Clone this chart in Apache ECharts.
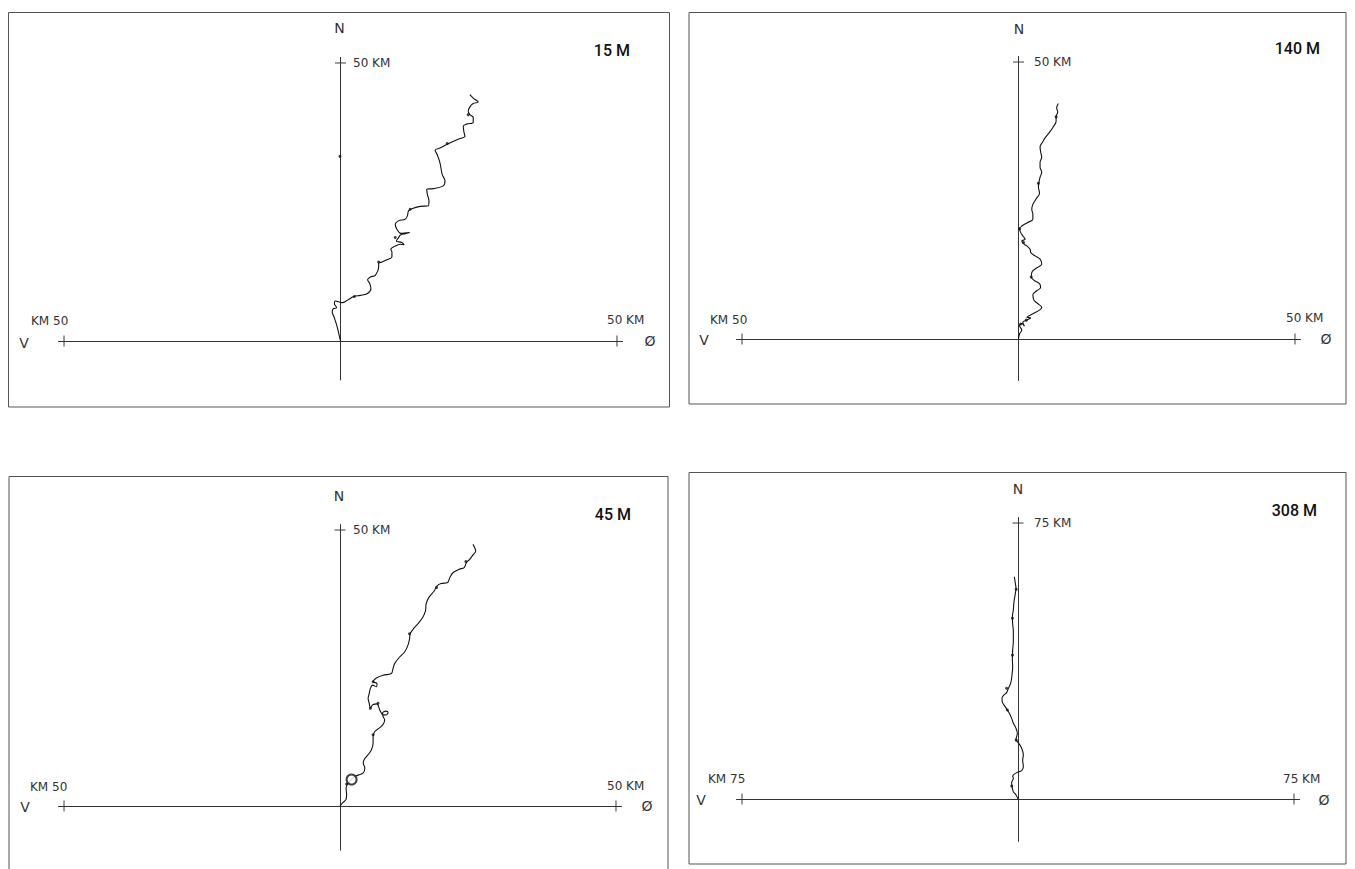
<!DOCTYPE html>
<html><head><meta charset="utf-8">
<script src="https://cdn.jsdelivr.net/npm/echarts@6/dist/echarts.min.js"></script>
<style>html,body{margin:0;padding:0;background:#fff}#c{width:1355px;height:869px}</style>
</head><body><div id="c"></div>
<script>
// ---------- DATA (km east, km north) ----------
const depthLabels = ['15 M', '140 M', '45 M', '308 M'];
const axisKm = [50, 50, 50, 75];

const east15  = [0,-0.7,-1.2,-1.5,-1.3,-0.7,-1.1,-0.9,0.3,1.2,2.4,3.6,4.8,5.5,5.3,4.9,5.4,6.3,6.9,6.9,7.5,8.4,9.3,9.3,9.1,9.9,10.8,11.5,11.1,10.1,10.5,10.9,11.7,12.5,10.9,10.2,9.9,10.5,11.7,12.1,12.3,12.9,14.4,15.9,16.0,15.7,15.6,16.8,18.6,18.9,18.4,18.0,17.5,17.1,18.0,19.3,21.3,22.5,22.3,22.2,22.8,24.0,24.0,23.4,23.1,23.4,24.0,24.9,24.1,23.4];
const north15 = [0,2.9,4.4,5.2,5.8,6.0,6.7,7.2,6.9,7.3,8.0,8.2,8.5,9.4,10.3,11.0,11.5,11.8,13.3,14.0,14.2,14.6,15.1,16.0,16.5,17.1,17.4,17.3,17.7,18.0,18.6,19.1,19.3,19.5,19.35,20.1,21.0,21.6,21.9,22.5,23.4,23.8,24.2,24.3,25.2,26.4,27.3,27.4,27.9,28.8,29.9,32.0,33.5,34.3,34.7,35.4,36.3,36.8,37.7,38.6,39.0,39.3,40.2,40.7,41.3,42.1,42.7,43.0,43.6,44.3];
const dots15E = [2.5,6.9,9.9,12.6,19.3,23.1,-0.1];
const dots15N = [8.0,14.2,18.6,23.7,35.5,40.7,33.2];

const east140  = [0,0.18,0.6,0.18,0.6,1.08,0.78,1.5,2.2,1.5,2.7,3.9,4.2,3.6,2.8,2.6,3.3,4.0,3.8,2.8,2.3,2.5,3.4,4.2,3.9,3.0,2.2,2.1,1.5,0.9,0.6,1.2,0.8,0.4,0.2,0.6,1.6,2.6,2.6,2.4,2.6,3.2,3.8,3.6,3.9,4.2,3.9,3.9,4.2,4.0,3.9,4.4,4.8,5.6,6.3,6.8,6.8,7.1,6.9,7.2];
const north140 = [0,0.9,1.6,2.4,2.8,2.3,3.0,3.4,3.8,3.9,4.6,5.3,5.7,6.3,7.0,8.0,8.7,9.3,10.0,10.6,11.2,12.2,12.9,13.5,14.4,15.0,15.6,16.2,16.8,17.2,17.7,18.0,18.6,19.2,19.9,20.4,21.0,21.6,22.5,23.4,24.3,25.3,26.3,27.5,29.2,30.1,31.0,31.9,32.8,33.8,34.7,35.6,36.3,37.3,38.3,39.3,40.1,41.0,41.7,42.5];
const dots140E = [0.2,2.3,3.6,6.8,1.4,0.4,0.9];
const dots140N = [19.9,11.2,28.1,40.1,3.4,2.7,17.4];

const east45  = [0,0.5,1.1,1.2,1.1,1.3,1.7,2.4,3.3,4.2,4.5,4.2,4.5,5.1,5.7,6.0,6.0,6.3,7.1,7.8,8.1,7.8,7.7,8.3,8.7,8.4,7.7,7.2,6.7,6.0,5.5,5.3,5.1,5.3,5.5,5.9,6.6,6.7,6.0,6.6,7.8,9.3,9.6,9.9,10.8,11.7,12.3,12.6,12.7,13.3,14.1,15.0,15.5,15.6,16.1,17.1,17.5,18.3,19.5,19.9,20.5,21.6,22.5,22.9,23.5,24.1,24.6,24.4,24.1];
const north45 = [0,0.6,1.2,2.1,3.2,3.9,4.4,5.2,5.6,6.0,6.9,7.8,8.6,9.3,10.2,11.4,12.6,13.5,14.1,14.8,15.6,16.2,16.8,17.2,17.0,16.5,16.6,17.4,18.5,18.4,17.8,18.6,19.5,20.4,21.3,21.9,21.6,22.2,22.5,23.2,23.7,24.0,24.9,25.8,27.0,27.9,29.1,30.3,31.2,32.1,33.0,34.2,35.4,36.6,37.8,39.0,39.8,40.3,40.5,41.4,42.3,42.9,43.2,44.1,44.7,45.5,46.2,46.8,47.4];
const dots45E = [22.8,17.5,12.6,6.0,6.9,5.5,6.0,1.2];
const dots45N = [44.3,39.6,31.2,22.5,18.6,17.7,12.9,4.0];
const ring45 = [2.1, 4.8];

const east308  = [0,-0.54,-1.27,-1.63,-1.72,-1.27,-1.45,-0.36,1.0,1.45,1.27,1.45,1.0,0.36,-0.18,-0.54,-0.18,-0.54,-1.27,-1.72,-2.36,-2.9,-3.5,-4.2,-4.35,-3.8,-3.1,-2.6,-2.0,-1.63,-1.45,-1.54,-1.45,-1.27,-1.27,-1.45,-1.54,-1.27,-1.09,-0.72,-0.54,-0.72,-1.0];
const north308 = [0,1.09,2.0,3.35,4.44,5.6,6.25,7.16,7.7,8.8,10.6,12.0,13.8,14.9,15.6,16.2,17.8,19.2,20.6,21.9,23.3,24.2,25.1,26.2,27.4,28.3,28.9,30.1,31.4,33.7,36.0,38.2,40.5,42.8,45.5,47.7,49.4,51.4,53.6,55.9,57.2,58.6,60.4];
const dots308E = [-1.7,-0.5,-2.9,-3.1,-1.5,-1.5,-0.5];
const dots308N = [3.5,16.0,24.2,30.1,39.1,49.1,57.0];

// ---------- LAYOUT ----------
const panels = [
  {e:east15, n:north15, de:dots15E, dn:dots15N,
   grid:{left:58.5, top:57.4, width:564, height:322.5}, xr:[-51,51], yr:[-7,51],
   frame:[8.5,12.5,661,394.5], N:[339.5,28], top:[353,62.5], depth:[630,50],
   lft:[31,321], V:[24,343], rgt:[607,320], E:[650,341]},
  {e:east140, n:north140, de:dots140E, dn:dots140N,
   grid:{left:736.5, top:56.5, width:564, height:324}, xr:[-51,51], yr:[-7.5,51],
   frame:[689,12.5,657,391.5], N:[1019,29], top:[1034,62], depth:[1320,48],
   lft:[710,320], V:[704,340], rgt:[1286,318], E:[1326,339]},
  {e:east45, n:north45, de:dots45E, dn:dots45N,
   grid:{left:58.5, top:524.5, width:563, height:325.7}, xr:[-51,51], yr:[-8,51],
   frame:[9,476.5,659,420], N:[339,496], top:[353,530], depth:[631,514],
   lft:[30,787], V:[25,807], rgt:[607,786], E:[647,806]},
  {e:east308, n:north308, de:dots308E, dn:dots308N,
   grid:{left:736.5, top:517.5, width:563, height:323.8}, xr:[-76.5,76.5], yr:[-11.5,76.5],
   frame:[689,472.5,657,391.5], N:[1018,489], top:[1034,523], depth:[1317,510],
   lft:[708,779], V:[701,800], rgt:[1283,779], E:[1324,800]}
];

const thinFont = '"DejaVu Sans", sans-serif';
const boldFont = '"Roboto", sans-serif';
const grids = [], xAxes = [], yAxes = [], series = [], graphics = [];

function txt(t, pos, size, align, font, weight, color) {
  graphics.push({type:'text', silent:true, style:{
    text:t, x:pos[0], y:pos[1], fill:color||'#333',
    fontSize:size, fontFamily:font||thinFont, fontWeight:weight||'normal',
    align:align, verticalAlign:'middle', textAlign:align, textVerticalAlign:'middle'}});
}

panels.forEach((p, i) => {
  const km = axisKm[i];
  grids.push(Object.assign({show:false}, p.grid));
  const axLine = {show:true, onZero:true, lineStyle:{color:'#333', width:1}};
  xAxes.push({type:'value', gridIndex:i, min:p.xr[0], max:p.xr[1], axisLine:axLine,
    axisTick:{show:false}, axisLabel:{show:false}, splitLine:{show:false}});
  yAxes.push({type:'value', gridIndex:i, min:p.yr[0], max:p.yr[1], axisLine:axLine,
    axisTick:{show:false}, axisLabel:{show:false}, splitLine:{show:false}});
  series.push({type:'line', xAxisIndex:i, yAxisIndex:i, data:p.e.map((x,k)=>[x,p.n[k]]),
    showSymbol:false, smooth:0.35, lineStyle:{color:'#111', width:1.1}, z:5, animation:false});
  series.push({type:'scatter', xAxisIndex:i, yAxisIndex:i, data:p.de.map((x,k)=>[x,p.dn[k]]),
    symbol:'circle', symbolSize:3, itemStyle:{color:'#111'}, z:6, animation:false, silent:true});
  series.push({type:'scatter', xAxisIndex:i, yAxisIndex:i, data:[[-km,0],[km,0]],
    symbol:'rect', symbolSize:[1.2,11], itemStyle:{color:'#333'}, z:4, animation:false, silent:true});
  series.push({type:'scatter', xAxisIndex:i, yAxisIndex:i, data:[[0,km]],
    symbol:'rect', symbolSize:[11,1.2], itemStyle:{color:'#333'}, z:4, animation:false, silent:true});
  graphics.push({type:'rect', silent:true, shape:{x:p.frame[0], y:p.frame[1], width:p.frame[2], height:p.frame[3]},
    style:{fill:'none', stroke:'#555', lineWidth:1}});
  txt('N', p.N, 14, 'center');
  txt(km + ' KM', p.top, 12, 'left');
  txt(depthLabels[i], p.depth, 16, 'right', boldFont, '500', '#111');
  txt('KM ' + km, p.lft, 12, 'left');
  txt('V', p.V, 14, 'center');
  txt(km + ' KM', p.rgt, 12, 'left');
  txt('Ø', p.E, 14, 'center');
});

series.push({type:'scatter', xAxisIndex:2, yAxisIndex:2, data:[ring45],
  symbol:'emptyCircle', symbolSize:10, itemStyle:{color:'#111', borderColor:'#111', borderWidth:1.1},
  z:6, animation:false, silent:true});

const chart = echarts.init(document.getElementById('c'), null, {renderer:'svg'});
chart.setOption({
  animation:false, backgroundColor:'#fff',
  grid:grids, xAxis:xAxes, yAxis:yAxes, series:series, graphic:{elements:graphics}
});
</script></body></html>
